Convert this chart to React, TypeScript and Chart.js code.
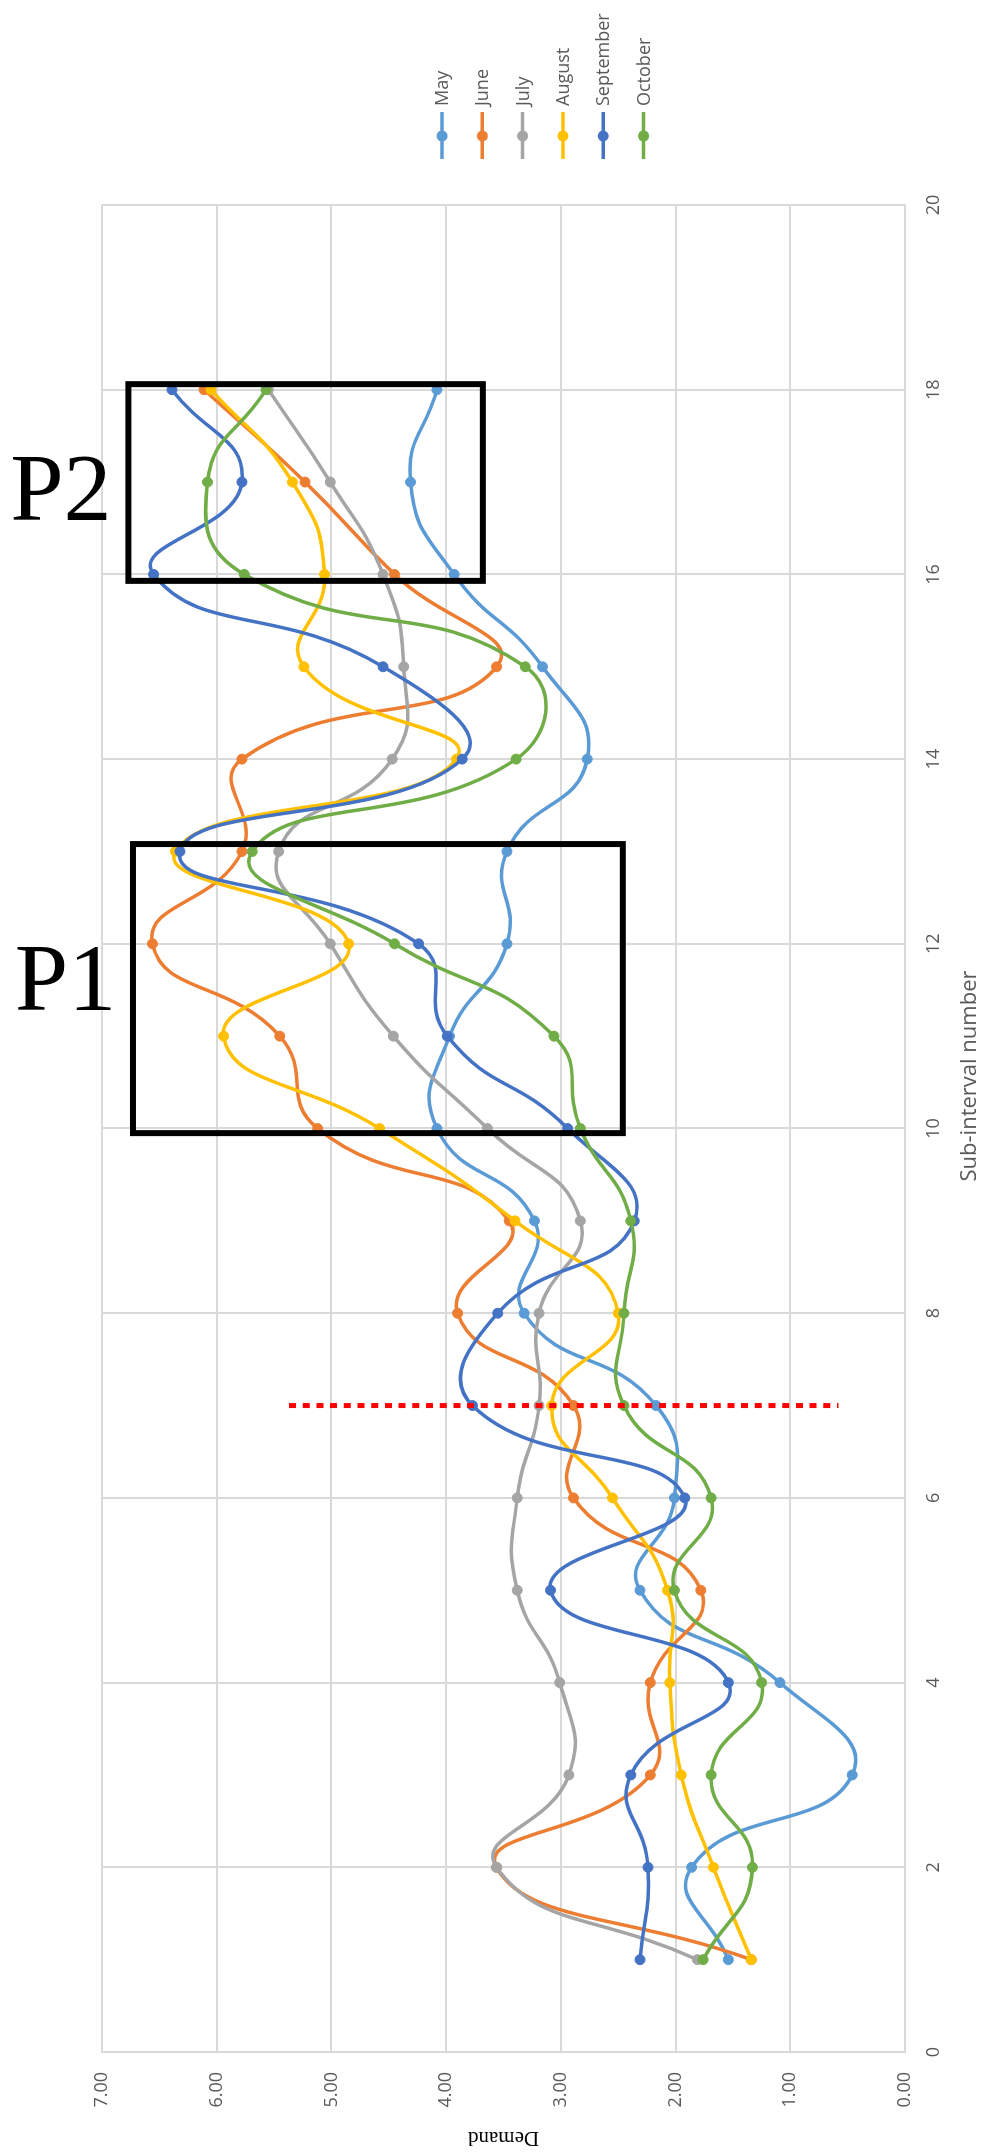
import React, { useEffect, useRef } from 'react';
import { Chart, registerables } from 'chart.js';

Chart.register(...registerables);

// ---- data ----
const subIntervals = [1, 2, 3, 4, 5, 6, 7, 8, 9, 10, 11, 12, 13, 14, 15, 16, 17, 18];
const monthNames = ['May', 'June', 'July', 'August', 'September', 'October'];
const monthColors = ['#5B9BD5', '#ED7D31', '#A5A5A5', '#FFC000', '#4472C4', '#70AD47'];

const mayDemand = [1.54, 1.86, 0.46, 1.09, 2.31, 2.01, 2.17, 3.32, 3.23, 4.08, 3.97, 3.47, 3.47, 2.77, 3.16, 3.93, 4.31, 4.08];
const juneDemand = [1.34, 3.56, 2.22, 2.22, 1.78, 2.89, 2.89, 3.90, 3.45, 5.12, 5.45, 6.56, 5.78, 5.78, 3.56, 4.45, 5.23, 6.11];
const julyDemand = [1.81, 3.56, 2.93, 3.01, 3.38, 3.38, 3.19, 3.19, 2.83, 3.64, 4.46, 5.01, 5.46, 4.47, 4.37, 4.55, 5.01, 5.55];
const augustDemand = [1.34, 1.67, 1.95, 2.05, 2.07, 2.55, 3.08, 2.50, 3.40, 4.58, 5.94, 4.85, 6.36, 3.91, 5.24, 5.06, 5.34, 6.05];
const septemberDemand = [2.31, 2.24, 2.39, 1.54, 3.09, 1.92, 3.77, 3.55, 2.36, 2.94, 3.99, 4.24, 6.32, 3.86, 4.55, 6.55, 5.78, 6.39];
const octoberDemand = [1.76, 1.33, 1.69, 1.25, 2.01, 1.69, 2.45, 2.45, 2.39, 2.83, 3.06, 4.45, 5.69, 3.39, 3.31, 5.76, 6.08, 5.57];

const seriesValues = [mayDemand, juneDemand, julyDemand, augustDemand, septemberDemand, octoberDemand];

const xAxisMax = 20;
const xAxisStep = 2;
const yAxisMax = 7;
const yAxisStep = 1;

// annotations in data units: [sub-interval from, to, demand from, to]
const boxP1 = [9.95, 13.08, 2.46, 6.73];
const boxP2 = [15.93, 18.06, 3.68, 6.77];
// red dotted marker: [sub-interval, demand from, demand to]
const markerLine = [7, 0.58, 5.37];
// labels: [text, sub-interval (baseline), demand (left edge)]
const boxLabels: [string, number, number][] = [
  ['P2', 16.59, 7.8],
  ['P1', 11.28, 7.76],
];

const W = 2152; // drawn landscape, rotated to portrait
const H = 985;

const annotationPlugin = {
  id: 'annotations',
  afterDatasetsDraw(chart: any) {
    const { ctx, scales } = chart;
    const x = scales.x;
    const y = scales.y;
    ctx.save();
    // red dotted line
    ctx.strokeStyle = '#FF0000';
    ctx.lineWidth = 5;
    ctx.setLineDash([7, 6.7]);
    ctx.beginPath();
    ctx.moveTo(x.getPixelForValue(markerLine[0]), y.getPixelForValue(markerLine[2]));
    ctx.lineTo(x.getPixelForValue(markerLine[0]), y.getPixelForValue(markerLine[1]));
    ctx.stroke();
    ctx.setLineDash([]);
    // boxes
    ctx.strokeStyle = '#000000';
    ctx.lineWidth = 6;
    for (const b of [boxP1, boxP2]) {
      const x0 = x.getPixelForValue(b[0]);
      const x1 = x.getPixelForValue(b[1]);
      const y0 = y.getPixelForValue(b[3]);
      const y1 = y.getPixelForValue(b[2]);
      ctx.strokeRect(x0, y0, x1 - x0, y1 - y0);
    }
    ctx.restore();
  },
  afterDraw(chart: any) {
    const { ctx, scales, chartArea } = chart;
    const x = scales.x;
    const y = scales.y;
    ctx.save();
    // P labels (upright after rotation)
    ctx.fillStyle = '#000000';
    ctx.font = '96px "Liberation Serif", "Times New Roman", serif';
    for (const [text, n, d] of boxLabels) {
      ctx.save();
      ctx.translate(x.getPixelForValue(n), y.getPixelForValue(d));
      ctx.rotate(Math.PI / 2);
      ctx.textAlign = 'left';
      ctx.textBaseline = 'alphabetic';
      ctx.fillText(text, 0, 0);
      ctx.restore();
    }
    // x axis title
    ctx.fillStyle = '#595959';
    ctx.font = '22px "Open Sans", sans-serif';
    ctx.textAlign = 'center';
    ctx.textBaseline = 'middle';
    ctx.fillText('Sub-interval number', W / 2, H - 15);
    // legend
    const lx0 = chartArea.right + 46;
    const lx1 = chartArea.right + 93;
    const ldot = chartArea.right + 69;
    const ltext = chartArea.right + 99;
    const ly0 = 442;
    const lstep = 40.3;
    ctx.font = '18px "Open Sans", sans-serif';
    ctx.textAlign = 'left';
    ctx.textBaseline = 'middle';
    monthNames.forEach((name, i) => {
      const ly = ly0 + i * lstep;
      ctx.strokeStyle = monthColors[i];
      ctx.lineWidth = 3.5;
      ctx.beginPath();
      ctx.moveTo(lx0, ly);
      ctx.lineTo(lx1, ly);
      ctx.stroke();
      ctx.fillStyle = monthColors[i];
      ctx.beginPath();
      ctx.arc(ldot, ly, 5.5, 0, Math.PI * 2);
      ctx.fill();
      ctx.fillStyle = '#595959';
      ctx.fillText(name, ltext, ly + 1);
    });
    ctx.restore();
  },
};

export default function App() {
  const canvasRef = useRef<HTMLCanvasElement | null>(null);

  useEffect(() => {
    const canvas = canvasRef.current;
    if (!canvas) return;
    const datasets = monthNames.map((name, i) => ({
      label: name,
      data: subIntervals.map((n, j) => ({ x: n, y: seriesValues[i][j] })),
      borderColor: monthColors[i],
      backgroundColor: monthColors[i],
      pointBackgroundColor: monthColors[i],
      pointBorderColor: monthColors[i],
      borderWidth: 3.5,
      pointRadius: 5,
      pointBorderWidth: 1,
      tension: 0.5,
      fill: false,
      order: monthNames.length - 1 - i,
    }));
    const chart = new Chart(canvas, {
      type: 'line',
      data: { datasets },
      options: {
        animation: false,
        responsive: false,
        devicePixelRatio: 1,
        layout: { padding: { top: 102, right: 205, left: 0, bottom: 0 } },
        plugins: { legend: { display: false }, tooltip: { enabled: false } },
        scales: {
          x: {
            type: 'linear',
            position: 'bottom',
            min: 0,
            max: xAxisMax,
            afterFit: (s: any) => { s.height = 80; },
            ticks: {
              stepSize: xAxisStep,
              padding: 18,
              color: '#595959',
              font: { family: '"Open Sans", sans-serif', size: 18 },
            },
            grid: { color: '#D9D9D9', lineWidth: 2, drawTicks: false },
            border: { color: '#D9D9D9', width: 2 },
          },
          y: {
            type: 'linear',
            min: 0,
            max: yAxisMax,
            afterFit: (s: any) => { s.width = 100; },
            ticks: {
              stepSize: yAxisStep,
              padding: 20,
              color: '#595959',
              font: { family: '"Open Sans", sans-serif', size: 18 },
              callback: (v: any) => Number(v).toFixed(2),
            },
            grid: { color: '#D9D9D9', lineWidth: 2, drawTicks: false },
            border: { color: '#D9D9D9', width: 2 },
            title: {
              display: true,
              text: 'Demand',
              color: '#000000',
              font: { family: '"Liberation Serif", "Times New Roman", serif', size: 21 },
              padding: { top: 2, bottom: 0 },
            },
          },
        },
      },
      plugins: [annotationPlugin],
    });
    return () => chart.destroy();
  }, []);

  return (
    <div style={{ position: 'absolute', left: 0, top: 0, width: H, height: W, overflow: 'hidden', background: '#ffffff' }}>
      <div
        style={{
          position: 'absolute',
          left: 0,
          top: 0,
          width: W,
          height: H,
          transformOrigin: '0 0',
          transform: `translateY(${W}px) rotate(-90deg)`,
        }}
      >
        <canvas ref={canvasRef} width={W} height={H} style={{ width: W, height: H, display: 'block' }} />
      </div>
    </div>
  );
}
